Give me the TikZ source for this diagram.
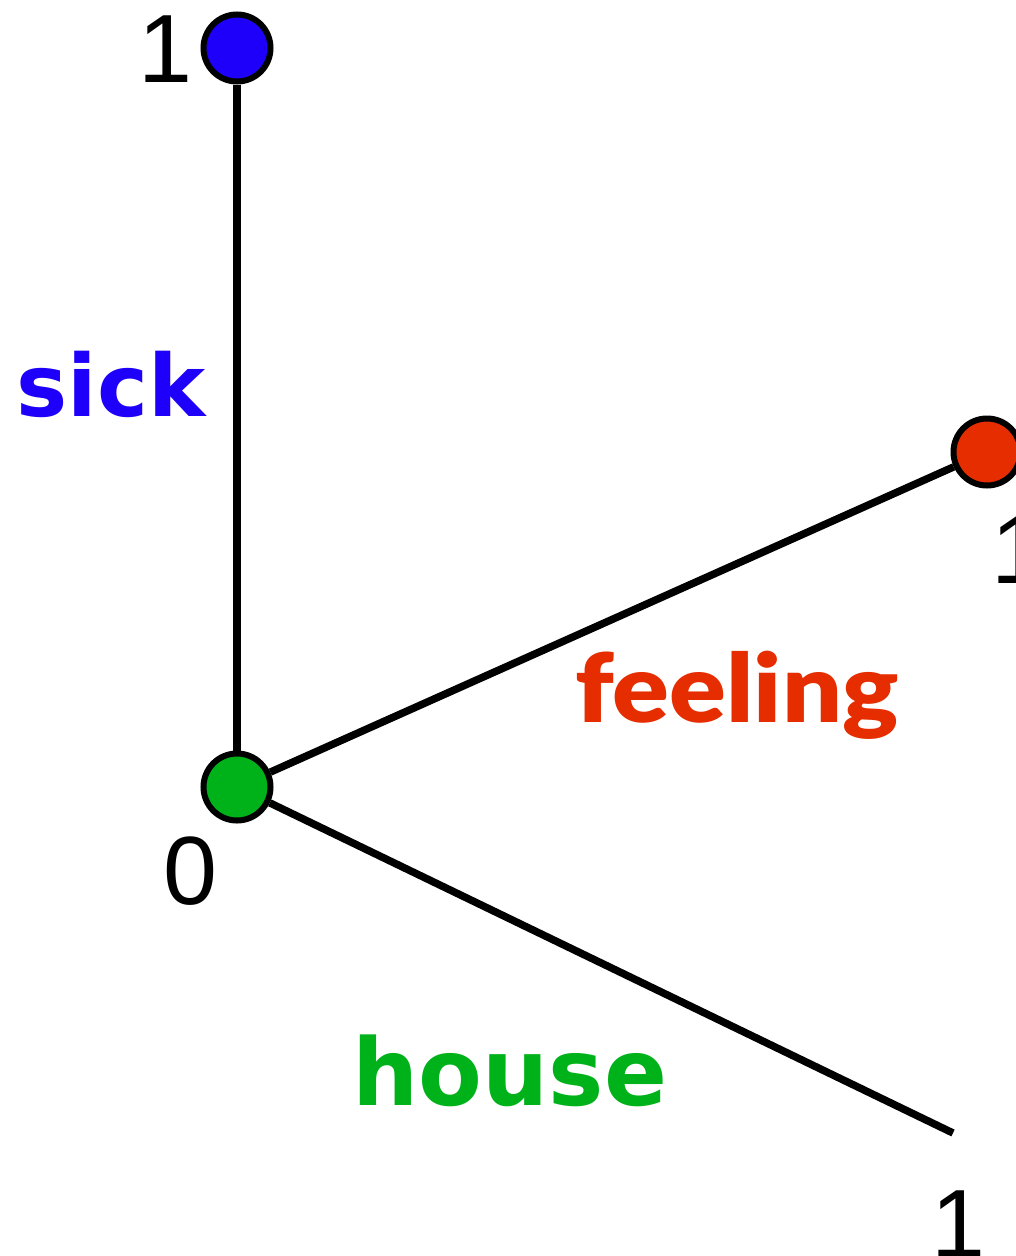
\documentclass[tikz,border=0pt]{standalone}
\usepackage{fontspec}
\setmainfont{Liberation Sans}
\newfontfamily\lblfont{DejaVu Sans}
\newfontfamily\feelfont{Lato Black}
\definecolor{cblue}{RGB}{30,0,250}
\definecolor{cred}{RGB}{230,45,0}
\definecolor{cgreen}{RGB}{0,178,26}
\begin{document}
\begin{tikzpicture}[x=1pt,y=-1pt,
  dot/.style={circle,draw=black,line width=6pt,minimum size=67pt,inner sep=0pt},
  axis/.style={line width=7.5pt,draw=black},
  num/.style={anchor=base,inner sep=0pt,font=\fontsize{97}{97}\selectfont},
  lbl/.style={anchor=base,inner sep=0pt,font=\lblfont\bfseries\fontsize{86}{86}\selectfont}]
\useasboundingbox (0,0) rectangle (1016,1256);
\node[dot,fill=cblue] (s1) at (237,48) {};
\node[dot,fill=cred] (f1) at (987,452) {};
\node[dot,fill=cgreen] (o) at (237,787) {};
\coordinate (h1) at (953,1133);
\draw[axis] (o) -- (s1);
\draw[axis] (o) -- (f1);
\draw[axis] (o) -- (h1);
\node[num] (n1) at (165,82) {1};
\node[num] (n2) at (1018,583) {1};
\node[num] (n0) at (190,904) {0};
\node[num] (n3) at (958,1257) {1};
\node[lbl,text=cblue] (sick) at (111,416) {sick};
\node[lbl,text=cred,font=\feelfont\fontsize{95}{95}\selectfont] (feeling) at (737,722) {\scalebox{1.11}[1]{feeling}};
\node[lbl,text=cgreen,font=\lblfont\bfseries\fontsize{93}{93}\selectfont] (house) at (510,1105) {house};
\end{tikzpicture}
\end{document}
